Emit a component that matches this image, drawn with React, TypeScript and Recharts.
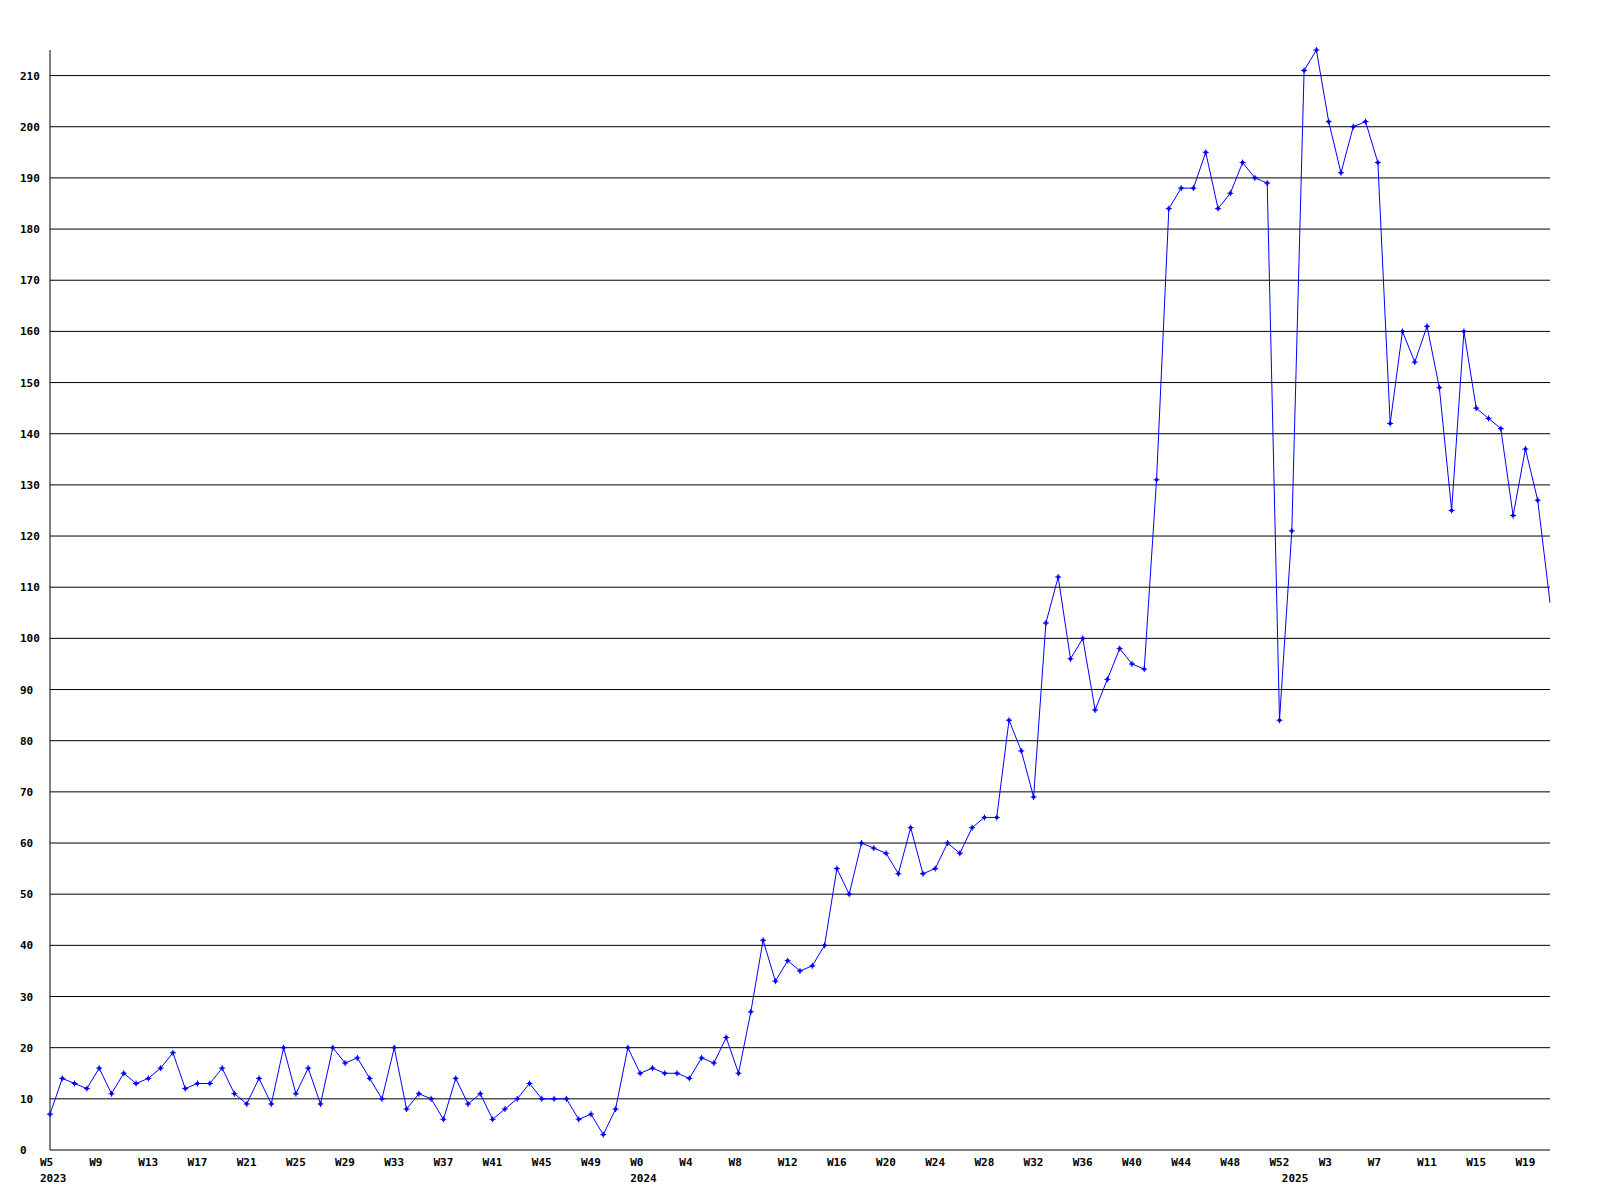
import { LineChart, Line, XAxis, YAxis, ReferenceLine } from 'recharts';

// weekly counts, 2023 W5 .. 2025 W21
const VALUES = [
  7, 14, 13, 12, 16, 11, 15, 13, 14, 16, 19, 12, 13, 13, 16, 11, 9, 14, 9, 20,
  11, 16, 9, 20, 17, 18, 14, 10, 20, 8, 11, 10, 6, 14, 9, 11, 6, 8, 10, 13,
  10, 10, 10, 6, 7, 3, 8, 20, 15, 16, 15, 15, 14, 18, 17, 22, 15, 27, 41, 33,
  37, 35, 36, 40, 55, 50, 60, 59, 58, 54, 63, 54, 55, 60, 58, 63, 65, 65, 84, 78,
  69, 103, 112, 96, 100, 86, 92, 98, 95, 94, 131, 184, 188, 188, 195, 184, 187, 193, 190, 189,
  84, 121, 211, 215, 201, 191, 200, 201, 193, 142, 160, 154, 161, 149, 125, 160, 145, 143, 141, 124,
  137, 127, 107,
];

const YEARS = [2023, 2024, 2025];
const FIRST_WEEK = [5, 0, 0];
const WEEK_COUNT = [48, 53, 22];

const Y_TICKS = [0, 10, 20, 30, 40, 50, 60, 70, 80, 90, 100, 110, 120, 130, 140, 150, 160, 170, 180, 190, 200, 210];

const FONT = '"DejaVu Sans Mono", monospace';

type Row = { i: number; week: number; year: number; yearStart: boolean; value: number };

const data: Row[] = [];
YEARS.forEach((year, y) => {
  for (let k = 0; k < WEEK_COUNT[y]; k++) {
    const i = data.length;
    data.push({ i, week: FIRST_WEEK[y] + k, year, yearStart: k === 0, value: VALUES[i] });
  }
});

const lastIndex = data.length - 1;
const xTicks = data.filter((d) => d.i % 4 === 0 || d.yearStart).map((d) => d.i);

const XTick = (props: any) => {
  const { x, y, payload } = props;
  const row = data[payload.value];
  if (!row) return <g />;
  return (
    <g>
      {row.i % 4 === 0 && (
        <text x={x - 10} y={y + 16} fontFamily={FONT} fontWeight="bold" fontSize={11} fill="#000">
          {`W${row.week}`}
        </text>
      )}
      {row.yearStart && (
        <text x={x - 10} y={y + 32} fontFamily={FONT} fontWeight="bold" fontSize={11} fill="#000">
          {row.year}
        </text>
      )}
    </g>
  );
};

const YTick = (props: any) => {
  const { y, payload } = props;
  return (
    <text x={20} y={y + 4} fontFamily={FONT} fontWeight="bold" fontSize={11} fill="#000">
      {payload.value}
    </text>
  );
};

const Marker = (props: any) => {
  const { cx, cy, index } = props;
  if (index === lastIndex || cx == null) return <g key={`m-${index}`} />;
  return (
    <g key={`m-${index}`}>
      <path d={`M${cx - 3} ${cy}H${cx + 3}M${cx} ${cy - 3}V${cy + 3}`} stroke="#0000ff" strokeWidth={1} />
      <rect x={cx - 1.5} y={cy - 1.5} width={3} height={3} fill="#0000ff" />
    </g>
  );
};

export default function App() {
  return (
    <div style={{ position: 'absolute', left: 0, top: 0, width: 1600, height: 1200, background: '#fff' }}>
      <LineChart width={1600} height={1200} data={data} margin={{ top: 50, right: 50, bottom: 0, left: 20 }}>
        <XAxis
          dataKey="i"
          type="number"
          domain={[0, lastIndex]}
          ticks={xTicks}
          interval={0}
          height={50}
          tickLine={false}
          tickSize={0}
          tickMargin={0}
          axisLine={{ stroke: '#000', strokeWidth: 1 }}
          tick={<XTick />}
        />
        <YAxis
          type="number"
          domain={[0, 215]}
          ticks={Y_TICKS}
          interval={0}
          width={30}
          tickLine={false}
          tickSize={0}
          axisLine={{ stroke: '#000', strokeWidth: 1 }}
          tick={<YTick />}
        />
        {Y_TICKS.filter((t) => t > 0).map((t) => (
          <ReferenceLine key={t} y={t} stroke="#000" strokeWidth={1} />
        ))}
        <Line
          type="linear"
          dataKey="value"
          stroke="#0000ff"
          strokeWidth={1}
          dot={Marker}
          activeDot={false}
          isAnimationActive={false}
        />
      </LineChart>
    </div>
  );
}
